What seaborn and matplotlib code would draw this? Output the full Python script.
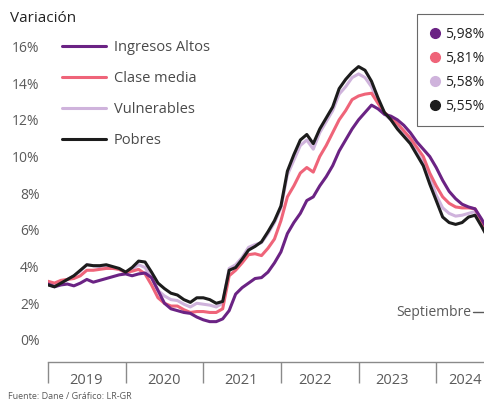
import numpy as np
import pandas as pd
import matplotlib
matplotlib.use("Agg")
import matplotlib.pyplot as plt
import seaborn as sns
from matplotlib.lines import Line2D

# inflación anual por nivel de ingreso, ene-2019 a sep-2024
anios = ["2019", "2020", "2021", "2022", "2023", "2024"]

ingresos_altos = [3.05, 2.9, 3.0, 3.05, 2.95, 3.1, 3.3, 3.15, 3.25, 3.35, 3.45, 3.55,
                  3.6, 3.5, 3.6, 3.65, 3.4, 2.7, 2.0, 1.7, 1.6, 1.5, 1.45, 1.25,
                  1.1, 1.0, 1.0, 1.15, 1.6, 2.5, 2.85, 3.1, 3.35, 3.4, 3.7, 4.2,
                  4.8, 5.8, 6.4, 6.9, 7.6, 7.8, 8.4, 8.9, 9.5, 10.3, 10.9, 11.5,
                  12.0, 12.4, 12.8, 12.6, 12.3, 12.2, 12.0, 11.7, 11.3, 10.8, 10.4, 10.0,
                  9.4, 8.7, 8.1, 7.7, 7.4, 7.25, 7.15, 6.6, 5.98]
clase_media = [3.2, 3.1, 3.25, 3.3, 3.35, 3.5, 3.8, 3.8, 3.85, 3.9, 3.9, 3.85,
               3.7, 3.75, 3.85, 3.6, 3.0, 2.3, 2.0, 1.85, 1.85, 1.65, 1.5, 1.55,
               1.55, 1.5, 1.5, 1.7, 3.5, 3.8, 4.2, 4.65, 4.7, 4.6, 5.0, 5.5,
               6.5, 7.8, 8.4, 9.1, 9.4, 9.15, 10.0, 10.6, 11.3, 12.0, 12.5, 13.1,
               13.3, 13.4, 13.45, 12.9, 12.4, 12.1, 11.8, 11.4, 11.0, 10.5, 10.0, 9.1,
               8.4, 7.8, 7.45, 7.25, 7.2, 7.2, 7.15, 6.5, 5.81]
vulnerables = [3.1, 2.95, 3.1, 3.3, 3.5, 3.75, 4.1, 4.05, 4.0, 4.05, 3.95, 3.85,
               3.65, 3.85, 4.1, 3.95, 3.4, 2.7, 2.4, 2.2, 2.15, 1.95, 1.8, 2.0,
               1.95, 1.9, 1.8, 2.0, 3.9, 4.1, 4.5, 5.05, 5.2, 5.3, 5.8, 6.4,
               7.2, 9.0, 9.8, 10.6, 10.9, 10.4, 11.3, 11.9, 12.5, 13.4, 13.8, 14.3,
               14.5, 14.3, 13.8, 13.0, 12.3, 12.0, 11.6, 11.2, 10.8, 10.2, 9.7, 8.9,
               7.9, 7.2, 6.9, 6.75, 6.8, 6.9, 7.0, 6.4, 5.58]
pobres = [3.0, 2.9, 3.1, 3.3, 3.5, 3.8, 4.1, 4.05, 4.05, 4.1, 4.0, 3.9,
          3.7, 3.95, 4.3, 4.25, 3.7, 3.1, 2.8, 2.55, 2.45, 2.2, 2.05, 2.3,
          2.3, 2.2, 2.0, 2.1, 3.8, 3.95, 4.4, 4.9, 5.1, 5.35, 5.9, 6.5,
          7.3, 9.2, 10.1, 10.9, 11.2, 10.7, 11.5, 12.1, 12.7, 13.7, 14.2, 14.6,
          14.9, 14.7, 14.1, 13.2, 12.4, 12.0, 11.5, 11.1, 10.7, 10.1, 9.5, 8.5,
          7.6, 6.7, 6.4, 6.3, 6.4, 6.7, 6.8, 6.2, 5.55]

grupos = ["Ingresos Altos", "Clase media", "Vulnerables", "Pobres"]
ultimo = ["5,98%", "5,81%", "5,58%", "5,55%"]
colores = {"Ingresos Altos": "#6b2384", "Clase media": "#ef6479",
           "Vulnerables": "#cfb3dc", "Pobres": "#1c1c1c"}

series = [ingresos_altos, clase_media, vulnerables, pobres]
df = pd.concat([pd.DataFrame({"mes": np.arange(len(v)), "valor": v, "grupo": g})
                for g, v in zip(grupos, series)])

sns.set_style("white")
plt.rcParams["font.family"] = ["Open Sans", "DejaVu Sans"]

fig = plt.figure(figsize=(4.85, 4.0), dpi=100)
ax = fig.add_axes([48 / 485, 38 / 400, 447 / 485, 362 / 400])

sns.lineplot(data=df, x="mes", y="valor", hue="grupo",
             hue_order=["Vulnerables", "Clase media", "Ingresos Altos", "Pobres"],
             palette=colores, linewidth=2.2, legend=False, ax=ax)

ax.set_xlabel("")
ax.set_ylabel("")

ax.set_yticks(range(0, 17, 2))
ax.set_yticklabels([f"{v}%" for v in range(0, 17, 2)])
ax.tick_params(axis="y", length=0, pad=6, labelsize=10, labelcolor="#5a5a5a")

# años: marcas en el cambio de año, etiqueta en medio (la última recortada al borde)
ax.set_xticks([0, 12, 24, 36, 48, 60])
ax.set_xticklabels([])
ax.set_xticks([5.9, 17.9, 29.8, 41.3, 53.1, 64.5], minor=True)
ax.set_xticklabels(anios, minor=True)
ax.tick_params(axis="x", which="major", bottom=True, direction="out", length=15,
               width=1, color="#8a8a8a")
ax.tick_params(axis="x", which="minor", bottom=True, length=0, pad=8, labelsize=10.5,
               labelcolor="#5a5a5a")

ax.set_xlim(0, 447 / 6.47)
ax.set_ylim(-1.2, 18.53)

sns.despine(ax=ax, left=True)
ax.spines["bottom"].set_color("#8a8a8a")
ax.spines["bottom"].set_linewidth(1)
ax.spines["bottom"].set_bounds(0, 435 / 6.47)

handles = [Line2D([0], [0], color=colores[g], lw=2.2) for g in grupos]
leg = ax.legend(handles, grupos, loc="upper left", bbox_to_anchor=(62 / 485, 1 - 40 / 400),
                bbox_transform=fig.transFigure, frameon=False, fontsize=10.5,
                handlelength=3.0, handletextpad=0.55, labelspacing=1.1,
                borderpad=0, borderaxespad=0, labelcolor="#4a4a4a")
ax.add_artist(leg)

dots = [Line2D([0], [0], color=colores[g], marker="o", lw=0, markersize=7) for g in grupos]
leg2 = ax.legend(dots, ultimo, loc="upper left", bbox_to_anchor=(417 / 485, 1 - 14 / 400),
                 bbox_transform=fig.transFigure, frameon=True, fancybox=False,
                 fontsize=10, handlelength=0.75, handletextpad=0.35, labelspacing=0.65,
                 borderpad=0.9, borderaxespad=0, labelcolor="#222222")
leg2.get_frame().set_edgecolor("#444444")
leg2.get_frame().set_linewidth(0.8)

fig.text(10 / 485, 1 - 18 / 400, "Variación", fontsize=11, color="#222222", va="center")
fig.text(471 / 485, 1 - 312 / 400, "Septiembre", fontsize=10, color="#5a5a5a",
         va="center", ha="right")
fig.add_artist(Line2D([473 / 485, 486 / 485], [1 - 312 / 400, 1 - 312 / 400],
                      color="#5a5a5a", lw=1))
fig.text(8 / 485, 1 - 392 / 400, "Fuente: Dane / Gráfico: LR-GR", fontsize=6.5,
         color="#5a5a5a", va="top")

fig.savefig("out.png", dpi=100)
